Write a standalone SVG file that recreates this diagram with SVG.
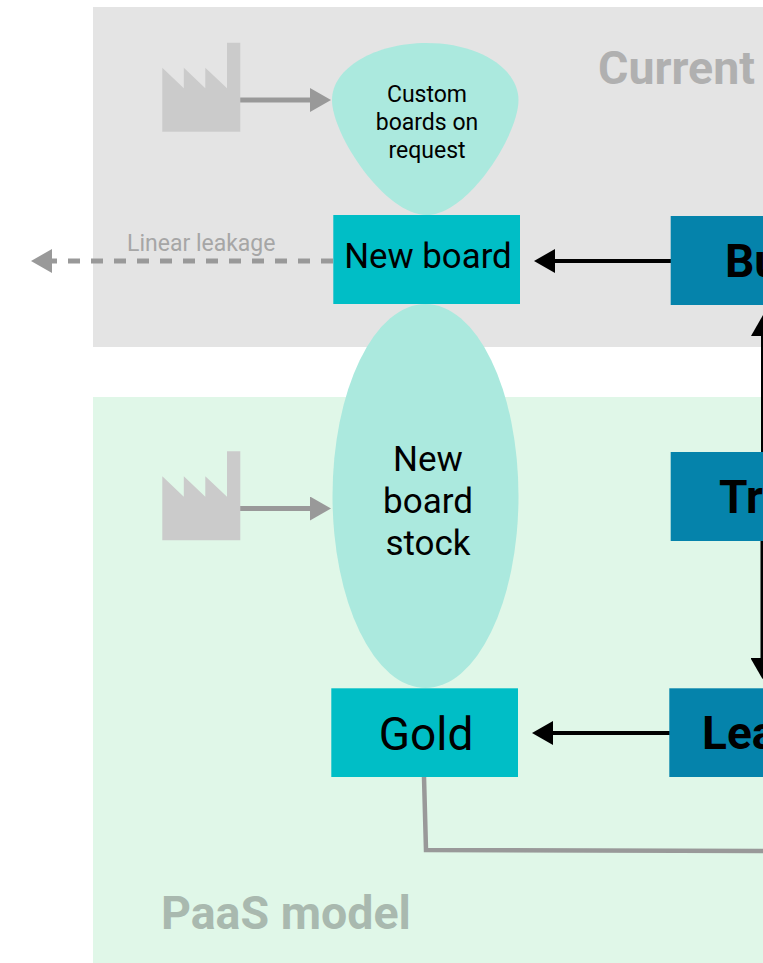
<svg xmlns="http://www.w3.org/2000/svg" width="763" height="963" viewBox="0 0 763 963">
<style>
text{font-family:Roboto,"Liberation Sans",sans-serif;fill:#000;text-anchor:middle}
.bold{font-weight:700}
.panel-label{font-weight:700;font-size:46.500px;text-anchor:start}
.factory{fill:#cbcbcb}
.blob{fill:#abe9de}
.teal{fill:#00bec6}
.blue{fill:#0583ab}
.grey{stroke:#999;fill:none}
.black{stroke:#000;fill:none}
</style>
<defs>
<marker id="ag" markerUnits="userSpaceOnUse" markerWidth="22" markerHeight="24" refX="1" refY="12" orient="auto"><path d="M0 0L21 12L0 24Z" fill="#999"/></marker>
<marker id="ab" markerUnits="userSpaceOnUse" markerWidth="22" markerHeight="24" refX="1" refY="12" orient="auto"><path d="M0 0L21 12L0 24Z" fill="#000"/></marker>
<path id="fac" d="M0 25L21.500 45.500V25L43 45.500V25L64.700 45.500V0H78V89H0Z"/>
</defs>
<g id="panels">
<rect x="93" y="7" width="670" height="340" fill="#e4e4e4"/>
<rect x="93" y="397" width="670" height="566" fill="#e0f7e8"/>
<text class="panel-label" x="598" y="84" style="fill:#b0b0b0">Current</text>
<text class="panel-label" x="161" y="929" style="fill:#a9b9af">PaaS model</text>
</g>
<g id="connectors">
<path class="grey" stroke-width="5" d="M240 100H311" marker-end="url(#ag)"/>
<path class="grey" stroke-width="5" d="M240 508.500H311" marker-end="url(#ag)"/>
<path class="grey" stroke-width="5" stroke-dasharray="12 11" d="M333 261H51" marker-end="url(#ag)"/>
<path class="black" stroke-width="4" d="M671 261H554" marker-end="url(#ab)"/>
<path class="black" stroke-width="4" d="M670 733H552" marker-end="url(#ab)"/>
<path class="black" stroke-width="4" d="M763 452V335" marker-end="url(#ab)"/>
<path class="black" stroke-width="4" d="M762.500 541V659" marker-end="url(#ab)"/>
<path class="grey" stroke-width="4.500" d="M424 777L426 850L763 851"/>
</g>
<g id="factory-top"><use href="#fac" class="factory" x="162.300" y="42.700"/></g>
<g id="factory-bottom"><use href="#fac" class="factory" x="162.300" y="451.300"/></g>
<g id="custom-boards">
<path class="blob" d="M426.500 43C478 43 518.500 68 518.500 100C518.500 135 468 215 426.500 215C385 215 332 135 332 100C332 68 375 43 426.500 43Z"/>
<text x="427" y="102" font-size="23">Custom</text>
<text x="427" y="130" font-size="23">boards on</text>
<text x="427" y="158" font-size="23">request</text>
</g>
<g id="new-board-stock">
<ellipse class="blob" cx="425.500" cy="496" rx="93" ry="192"/>
<text x="428" y="471" font-size="35">New</text>
<text x="428" y="513" font-size="35">board</text>
<text x="428" y="555" font-size="35">stock</text>
</g>
<g id="new-board">
<rect class="teal" x="333.300" y="215" width="186.700" height="89"/>
<text x="428" y="268" font-size="34.800">New board</text>
</g>
<g id="gold">
<rect class="teal" x="331.300" y="688.300" width="186.700" height="88.700"/>
<text x="426" y="750" font-size="46">Gold</text>
</g>
<g id="bu">
<rect class="blue" x="670.700" y="216" width="92.300" height="89"/>
<text class="bold" x="725" y="277" font-size="46" style="text-anchor:start">Bu</text>
</g>
<g id="tr">
<rect class="blue" x="670.700" y="452" width="92.300" height="89"/>
<text class="bold" x="719" y="513" font-size="46" style="text-anchor:start">Tr</text>
</g>
<g id="lea">
<rect class="blue" x="669.300" y="688.300" width="93.700" height="88.700"/>
<text class="bold" x="702" y="749" font-size="46" style="text-anchor:start">Lea</text>
</g>
<g id="leakage-label">
<text x="127" y="251" font-size="23" style="fill:#a6a6a6;text-anchor:start">Linear leakage</text>
</g>
</svg>
